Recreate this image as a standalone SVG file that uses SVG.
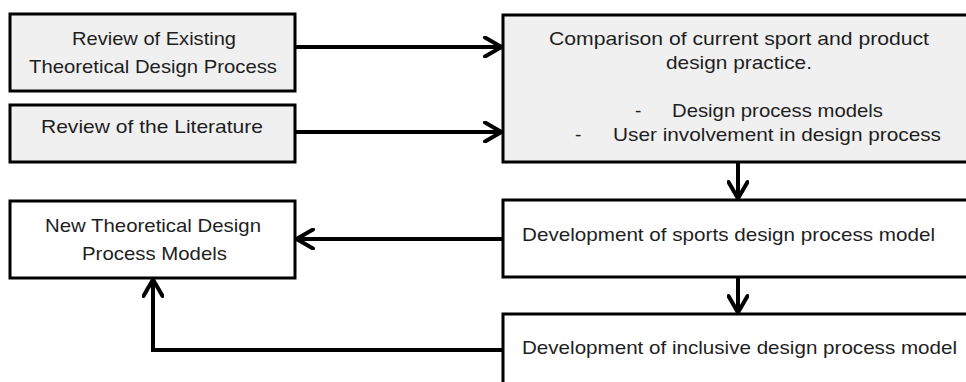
<svg xmlns="http://www.w3.org/2000/svg" width="966" height="382" viewBox="0 0 966 382">
<style>
.box{stroke:#000;stroke-width:3}
.grey{fill:#f0f0f0}
.white{fill:#fff}
text{font-family:"Liberation Sans",Arial,sans-serif;font-size:19px;fill:#1e1e1e}
.c{text-anchor:middle}
.conn{fill:none;stroke:#000;stroke-width:4;stroke-linejoin:miter}
</style>
<defs>
<marker id="arr" viewBox="0 0 22 22" refX="20" refY="11" markerWidth="22" markerHeight="22" markerUnits="userSpaceOnUse" orient="auto">
<path d="M3,1.5 L19.5,11 L3,20.5" fill="none" stroke="#000" stroke-width="4" stroke-linecap="round" stroke-linejoin="round"/>
</marker>
</defs>
<rect width="966" height="382" fill="#fff"/>
<g id="connectors">
<path class="conn" d="M295,47 H502" marker-end="url(#arr)"/>
<path class="conn" d="M295,132 H502" marker-end="url(#arr)"/>
<path class="conn" d="M738,162 V199" marker-end="url(#arr)"/>
<path class="conn" d="M503,239 H296" marker-end="url(#arr)"/>
<path class="conn" d="M738,277 V313" marker-end="url(#arr)"/>
<path class="conn" d="M503,350 H153 V279" marker-end="url(#arr)"/>
</g>
<g id="review-existing">
<rect class="box grey" x="10" y="14" width="285" height="77"/>
<text class="c" x="154" y="45" textLength="164" lengthAdjust="spacingAndGlyphs">Review of Existing</text>
<text class="c" x="153" y="73" textLength="248" lengthAdjust="spacingAndGlyphs">Theoretical Design Process</text>
</g>
<g id="review-literature">
<rect class="box grey" x="10" y="105" width="285" height="57"/>
<text x="41" y="133" textLength="222" lengthAdjust="spacingAndGlyphs">Review of the Literature</text>
</g>
<g id="comparison">
<rect class="box grey" x="503" y="15" width="480" height="147"/>
<text x="549" y="45" textLength="380" lengthAdjust="spacingAndGlyphs">Comparison of current sport and product</text>
<text x="666" y="69" textLength="146" lengthAdjust="spacingAndGlyphs">design practice.</text>
<text x="635" y="117">-</text>
<text x="672" y="117" textLength="211" lengthAdjust="spacingAndGlyphs">Design process models</text>
<text x="575" y="141">-</text>
<text x="613" y="141" textLength="328" lengthAdjust="spacingAndGlyphs">User involvement in design process</text>
</g>
<g id="new-models">
<rect class="box white" x="10" y="201" width="285" height="77"/>
<text x="45" y="232" textLength="216" lengthAdjust="spacingAndGlyphs">New Theoretical Design</text>
<text x="82" y="260" textLength="145" lengthAdjust="spacingAndGlyphs">Process Models</text>
</g>
<g id="sports-model">
<rect class="box white" x="503" y="200" width="480" height="77"/>
<text x="522" y="241" textLength="413" lengthAdjust="spacingAndGlyphs">Development of sports design process model</text>
</g>
<g id="inclusive-model">
<rect class="box white" x="503" y="314" width="480" height="100"/>
<text x="522" y="354" textLength="435" lengthAdjust="spacingAndGlyphs">Development of inclusive design process model</text>
</g>
</svg>
